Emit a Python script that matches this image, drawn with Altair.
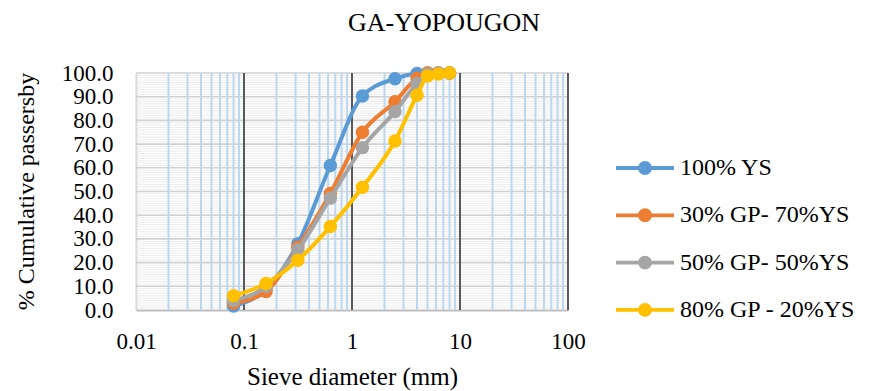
import altair as alt
import pandas as pd

# ---------------- data ----------------
sieve_mm = [0.08, 0.16, 0.315, 0.63, 1.25, 2.5, 4, 5, 6.3, 8]
series_names = ["100% YS", "30% GP- 70%YS", "50% GP- 50%YS", "80% GP - 20%YS"]
ys100 = [1.7, 8.8, 28.0, 61.0, 90.3, 97.6, 99.8, 100.0, 100.0, 100.0]
gp30 = [2.8, 7.8, 26.5, 49.2, 75.0, 87.9, 97.8, 100.0, 100.0, 100.0]
gp50 = [4.0, 10.0, 25.3, 47.2, 68.5, 83.7, 95.6, 99.5, 100.0, 100.0]
gp80 = [6.0, 11.2, 21.0, 35.2, 51.8, 71.3, 90.6, 98.7, 99.6, 100.0]
series_values = [ys100, gp30, gp50, gp80]
colors = ["#5B9BD5", "#ED7D31", "#A5A5A5", "#FFC000"]

x_tick_values = [0.01, 0.1, 1, 10, 100]
y_tick_values = [0, 10, 20, 30, 40, 50, 60, 70, 80, 90, 100]

# grid positions (log decades with minor 2..9, y every unit / every ten)
x_minor = [m * 10.0 ** e for e in (-2, -1, 0, 1) for m in range(2, 10)]
x_major = [0.1, 1, 10, 100]
y_minor = [v for v in range(0, 101) if v % 10 != 0]
y_major = [10, 20, 30, 40, 50, 60, 70, 80, 90, 100]

rows = []
for name, vals in zip(series_names, series_values):
    for s, v in zip(sieve_mm, vals):
        rows.append({"sieve": s, "passing": v, "series": name})
df = pd.DataFrame(rows)

FONT = "Liberation Serif"

xscale = alt.Scale(type="log", domain=[0.01, 100], nice=False)
yscale = alt.Scale(domain=[0, 100], nice=False, zero=False)

xaxis = alt.Axis(
    values=x_tick_values, format=".2~f", title="Sieve diameter (mm)",
    grid=False, ticks=False, domainColor="#bfbfbf", domainWidth=2,
    labelFont=FONT, labelFontSize=23, labelColor="black", labelPadding=20,
    labelFlush=False, labelOverlap=False, labelBound=False,
    titleFont=FONT, titleFontSize=25, titleFontWeight="normal", titleColor="black",
    titleBaseline="alphabetic", titleY=74,
)
yaxis = alt.Axis(
    values=y_tick_values, format=".1f", title="% Cumulative passersby",
    grid=False, ticks=False, domainColor="#d0d0d0", domainWidth=2,
    labelFont=FONT, labelFontSize=23, labelColor="black", labelPadding=23,
    labelFlush=False, labelOverlap=False, labelBound=False,
    titleFont=FONT, titleFontSize=24, titleFontWeight="normal", titleColor="black",
    titleBaseline="alphabetic", titleAlign="center", titleAngle=270,
    titleX=-103, titleY=118,
)


def X(field):
    return alt.X(f"{field}:Q", scale=xscale, axis=xaxis)


def Y(field):
    return alt.Y(f"{field}:Q", scale=yscale, axis=yaxis)


def circ(r):
    return f"M{r},0A{r},{r},0,1,1,-{r},0A{r},{r},0,1,1,{r},0Z"


legend_symbol = "M-2,0L2,0" + circ(0.12) + circ(0.35)

legend = alt.Legend(
    title=None, orient="none", legendX=492.5, legendY=78.5, padding=0,
    symbolType=legend_symbol, symbolSize=841, symbolStrokeWidth=3.8,
    symbolOpacity=1, labelFont=FONT, labelFontSize=24, labelColor="black",
    labelOffset=18.5, rowPadding=17.3, labelLimit=0,
)
color = alt.Color("series:N", scale=alt.Scale(domain=series_names, range=colors),
                  legend=legend)

layers = [
    alt.Chart(pd.DataFrame({"passing": y_minor})).mark_rule(color="#ececec", strokeWidth=1).encode(y=Y("passing")),
    alt.Chart(pd.DataFrame({"passing": y_major})).mark_rule(color="#d0d0d0", strokeWidth=1.6).encode(y=Y("passing")),
    alt.Chart(pd.DataFrame({"sieve": x_minor})).mark_rule(color="#bdd7ee", strokeWidth=2).encode(x=X("sieve")),
    alt.Chart(pd.DataFrame({"sieve": x_major})).mark_rule(color="#595959", strokeWidth=2).encode(x=X("sieve")),
]

for name in series_names:
    sub = df[df["series"] == name]
    base = alt.Chart(sub).encode(x=X("sieve"), y=Y("passing"), color=color)
    layers.append(base.mark_line(interpolate="monotone", strokeWidth=4))
    layers.append(base.mark_circle(size=180, opacity=1))

chart = alt.layer(*layers).properties(
    width=432, height=237,
    autosize=alt.AutoSizeParams(type="none"),
    padding={"left": 136, "top": 73, "right": 304, "bottom": 81},
    title=alt.TitleParams(
        "GA-YOPOUGON", font=FONT, fontSize=26, fontWeight="normal", color="black",
        anchor="middle", dx=92, baseline="alphabetic", offset=5,
    ),
    background="white",
).configure_view(stroke=None)

chart.save("out.html", embed_options={"renderer": "svg", "actions": False})
